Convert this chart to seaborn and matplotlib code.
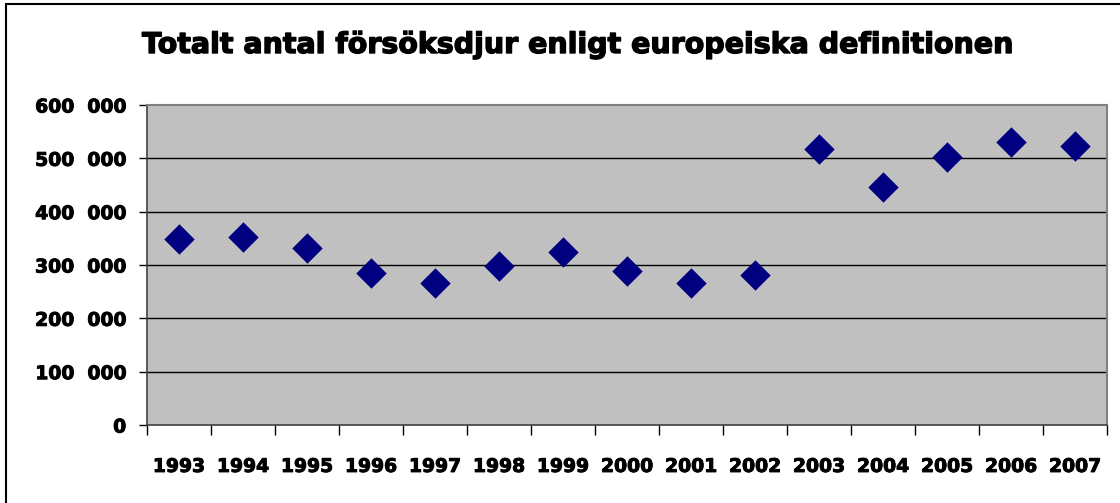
import matplotlib
matplotlib.use("Agg")
import matplotlib.pyplot as plt
import matplotlib.ticker as mticker
import matplotlib.patheffects as pe
from matplotlib.patches import Rectangle
import seaborn as sns
import pandas as pd

years = [1993, 1994, 1995, 1996, 1997, 1998, 1999, 2000, 2001, 2002, 2003, 2004, 2005, 2006, 2007]
animals = [348000, 352000, 331000, 285000, 267000, 299000, 324000, 289000, 267000, 282000,
           517000, 447000, 503000, 531000, 524000]
title = "Totalt antal försöksdjur enligt europeiska definitionen"
yticks = [0, 100000, 200000, 300000, 400000, 500000, 600000]

df = pd.DataFrame({"year": years, "animals": animals})

sns.set_theme(style="white")
plt.rcParams['font.family'] = ['DejaVu Sans']
plt.rcParams['text.color'] = 'black'
plt.rcParams['xtick.color'] = 'black'
plt.rcParams['ytick.color'] = 'black'

fig = plt.figure(figsize=(11.2, 5.03), dpi=100)
ax = fig.add_axes([147/1120, 1 - 425/503, (1107-147)/1120, (425-105)/503])
ax.set_facecolor("#C0C0C0")

sns.scatterplot(data=df, x="year", y="animals", marker="D", s=240, color="#000080",
                edgecolor="#000080", linewidth=0, ax=ax, zorder=3)

ax.set_ylim(0, 600000)
ax.set_xlim(years[0] - 0.5, years[-1] + 0.5)
ax.set_yticks(yticks)
ax.yaxis.set_major_formatter(mticker.FuncFormatter(lambda v, p: f"{int(v):,}".replace(",", "  ")))
for v in yticks[1:-1]:
    ax.axhline(v, color="black", lw=1.0, zorder=1)

# category boundaries as major ticks, labels on minor ticks
ax.set_xticks([y - 0.5 for y in years] + [years[-1] + 0.5])
ax.set_xticklabels([])
ax.set_xticks(years, minor=True)
ax.set_xticklabels([str(y) for y in years], minor=True)
ax.tick_params(axis="x", which="major", length=7, width=1, color="black", direction="out", bottom=True)
ax.tick_params(axis="x", which="minor", length=0, pad=23, labelsize=13.5, labelcolor="black")
ax.tick_params(axis="y", which="major", length=6, width=1, color="black", direction="out", left=True,
               labelsize=13.5, pad=9, labelcolor="black")
stroke = [pe.withStroke(linewidth=0.7, foreground="black")]
for lab in ax.get_xticklabels(minor=True) + ax.get_yticklabels():
    lab.set_fontweight("bold")
    lab.set_path_effects(stroke)

ax.set_xlabel("")
ax.set_ylabel("")
for side in ["top", "right"]:
    ax.spines[side].set_color("#808080")
    ax.spines[side].set_linewidth(1.5)
for side in ["left", "bottom"]:
    ax.spines[side].set_color("#404040")
    ax.spines[side].set_linewidth(1.2)

fig.text(578/1120, 1 - 45/503, title, ha="center", va="center", fontsize=20.5,
         fontweight="bold", color="black", family=["DejaVu Sans"],
         path_effects=[pe.withStroke(linewidth=1.0, foreground="black")])

# outer chart border (top and left visible)
fig.patches.append(Rectangle((6/1120, -0.1), 1.2, 1 - 4/503 + 0.1, transform=fig.transFigure,
                             fill=False, edgecolor="black", lw=1.5, zorder=0))

fig.savefig("out.png", dpi=100)
